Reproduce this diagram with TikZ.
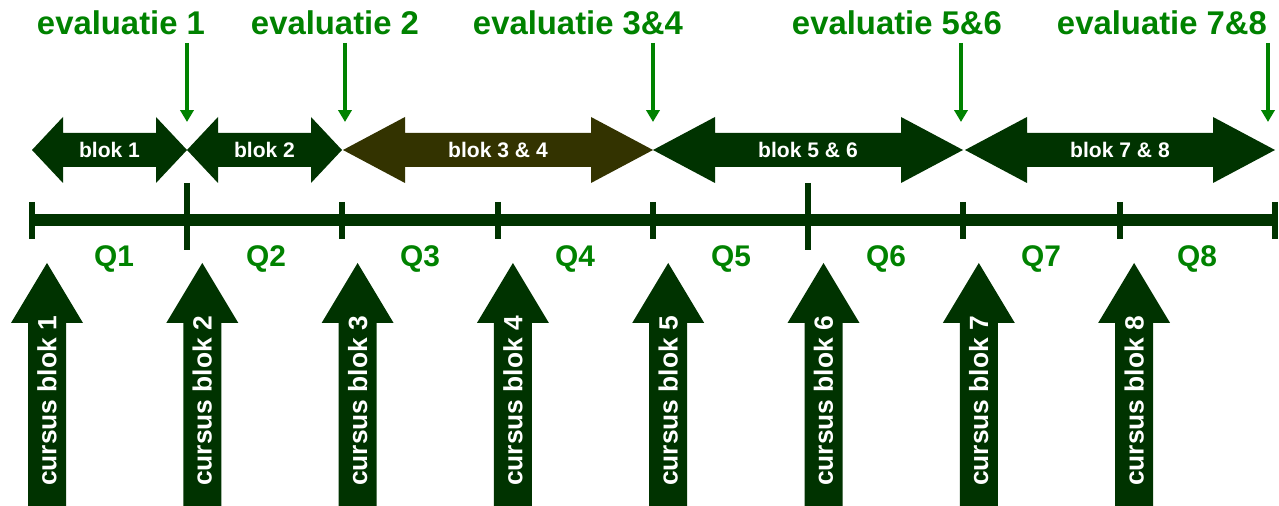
\documentclass[tikz,border=0pt]{standalone}
\usepackage{fontspec}
\setmainfont{Liberation Sans}
\usetikzlibrary{arrows.meta}
\definecolor{darkgreen}{RGB}{0,51,0}
\definecolor{evalgreen}{RGB}{0,130,0}
\definecolor{darkbrown}{RGB}{51,51,0}
\begin{document}
\begin{tikzpicture}[x=0.02cm, y=-0.02cm, line join=miter]
	\tikzset{evaltext/.style={text=evalgreen, font=\bfseries\fontsize{18.7}{20}\selectfont, anchor=base, inner sep=0pt},
		qtext/.style={text=evalgreen, font=\bfseries\fontsize{17}{19}\selectfont, anchor=base, inner sep=0pt},
		bloktext/.style={text=white, font=\bfseries\fontsize{12}{14}\selectfont, inner sep=0pt},
		cursustext/.style={text=white, font=\bfseries\fontsize{15}{17}\selectfont, rotate=90, inner sep=0pt},
		evalarrow/.style={draw=evalgreen, line width=2.8pt, -{Triangle[width=7.5pt,length=6.8pt]}}}
	\useasboundingbox (0,0) rectangle (1279,506);
	% tijdlijn met kwartalen
	\foreach \x [count=\i from 0] in {32,187,342,498,653,808,963,1120,1275}
		\coordinate (t\i) at (\x,220);
	\draw[darkgreen, line width=6.3pt] (t0) -- (t8);
	\foreach \x in {32,342,498,653,963,1120,1275}
		\draw[darkgreen, line width=3.4pt] (\x,202) -- (\x,239);
	\foreach \x in {187,808}
		\draw[darkgreen, line width=3.4pt] (\x,183) -- (\x,250);
	\foreach \x [count=\i] in {114,266,420,575,731,886,1041,1197}
		\node[qtext] (q\i) at (\x,267) {Q\i};
	% blokken
	\foreach \l/\r/\h/\c/\t [count=\i] in {32/187/31/darkgreen/blok 1, 187/342/31/darkgreen/blok 2, 343/653/62/darkbrown/blok 3 \& 4, 653/963/62/darkgreen/blok 5 \& 6, 965/1275/62/darkgreen/blok 7 \& 8}{
		\fill[\c] (\l,150) -- (\l+\h,117) -- (\l+\h,133) -- (\r-\h,133) -- (\r-\h,117) -- (\r,150)
			-- (\r-\h,183) -- (\r-\h,167) -- (\l+\h,167) -- (\l+\h,183) -- cycle;
		\node[bloktext] (blok\i) at ({(\l+\r)/2},150) {\t};
	}
	% evaluaties
	\foreach \x/\n in {187/1, 345/2, 653/3, 961/4, 1268/5}{
		\coordinate (ev\n top) at (\x,43);
		\coordinate (ev\n tip) at (\x,122);
		\draw[evalarrow] (ev\n top) -- (ev\n tip);
	}
	\node[evaltext] (eval1) at (121,35) {evaluatie 1};
	\node[evaltext] (eval2) at (335,35) {evaluatie 2};
	\node[evaltext] (eval3) at (578,35) {evaluatie 3\&4};
	\node[evaltext] (eval4) at (897,35) {evaluatie 5\&6};
	\node[evaltext] (eval5) at (1162,35) {evaluatie 7\&8};
	% cursussen
	\foreach \i in {1,...,8}{
		\pgfmathsetmacro{\c}{47+155.3*(\i-1)}
		\fill[darkgreen] (\c-19,506) -- (\c-19,323) -- (\c-36,323) -- (\c,263) -- (\c+36,323)
			-- (\c+19,323) -- (\c+19,506) -- cycle;
		\node[cursustext] (cursus\i) at (\c,401) {cursus blok \i};
	}
\end{tikzpicture}
\end{document}
